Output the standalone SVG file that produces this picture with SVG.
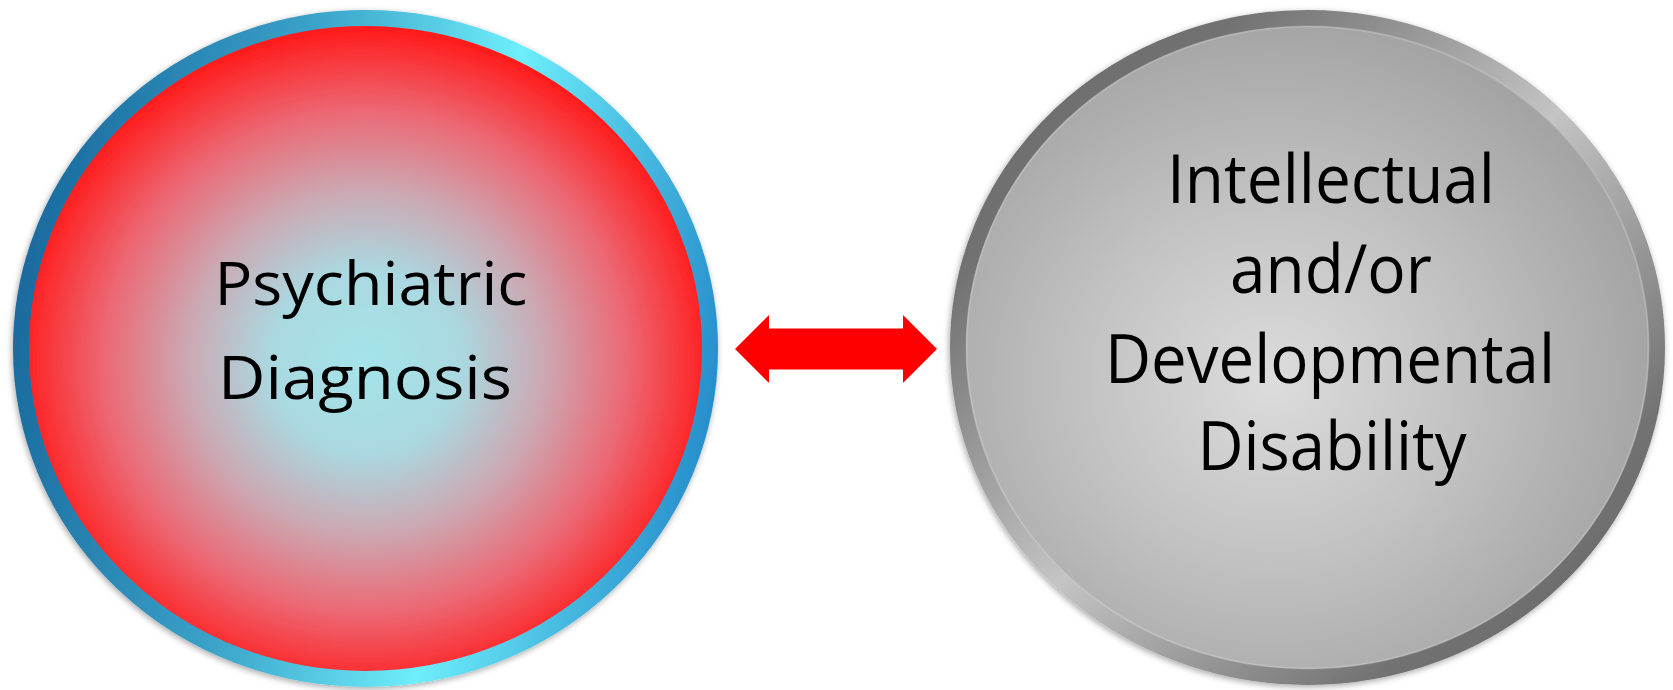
<svg xmlns="http://www.w3.org/2000/svg" width="1673" height="690" viewBox="0 0 1673 690">
  <style>
    .lbl { font-family: "Open Sans", Lato, "Liberation Sans", sans-serif; fill: #000000; text-anchor: middle; }
    .l1 { font-size: 60px; }
    .l2 { font-size: 68px; }
  </style>
  <defs>
    <filter id="shadow" x="-10%" y="-10%" width="120%" height="120%">
      <feDropShadow dx="-1" dy="2" stdDeviation="3" flood-color="#000" flood-opacity="0.35"/>
    </filter>
    <radialGradient id="redFill" cx="0.5" cy="0.52" r="0.5">
      <stop offset="0" stop-color="#A4E4EA"/>
      <stop offset="0.28" stop-color="#ABD8E0"/>
      <stop offset="0.52" stop-color="#CCA8B2"/>
      <stop offset="0.76" stop-color="#EC6874"/>
      <stop offset="1" stop-color="#FF1E1E"/>
    </radialGradient>
    <linearGradient id="blueRing" x1="0" y1="0.42" x2="1" y2="0.58">
      <stop offset="0" stop-color="#1A6B9E"/>
      <stop offset="0.35" stop-color="#3AA2C9"/>
      <stop offset="0.65" stop-color="#6EEEFA"/>
      <stop offset="1" stop-color="#2890CC"/>
    </linearGradient>
    <radialGradient id="grayFill" cx="0.45" cy="0.55" r="0.55">
      <stop offset="0" stop-color="#DCDCDC"/>
      <stop offset="0.5" stop-color="#C2C2C2"/>
      <stop offset="1" stop-color="#A4A4A4"/>
    </radialGradient>
    <linearGradient id="grayRing" x1="0" y1="0" x2="1" y2="1">
      <stop offset="0" stop-color="#666666"/>
      <stop offset="0.2" stop-color="#727272"/>
      <stop offset="0.5" stop-color="#C4C4C4"/>
      <stop offset="0.8" stop-color="#727272"/>
      <stop offset="1" stop-color="#646464"/>
    </linearGradient>
  </defs>

  <g id="node-psychiatric">
    <ellipse cx="365.5" cy="348.5" rx="344.5" ry="330.5" fill="url(#redFill)" stroke="url(#blueRing)" stroke-width="16" filter="url(#shadow)"/>
    <text class="lbl l1" x="371" y="305" textLength="313" lengthAdjust="spacingAndGlyphs">Psychiatric</text>
    <text class="lbl l1" x="365" y="399" textLength="294" lengthAdjust="spacingAndGlyphs">Diagnosis</text>
  </g>

  <g id="node-idd">
    <ellipse cx="1307.5" cy="347.5" rx="349.5" ry="329.5" fill="url(#grayFill)" stroke="url(#grayRing)" stroke-width="16" filter="url(#shadow)"/>
    <ellipse cx="1307.5" cy="347.5" rx="341" ry="321" fill="none" stroke="#FFFFFF" stroke-opacity="0.18" stroke-width="2"/>
    <text class="lbl l2" x="1331" y="203" textLength="328" lengthAdjust="spacingAndGlyphs">Intellectual</text>
    <text class="lbl l2" x="1331" y="293" textLength="202" lengthAdjust="spacingAndGlyphs">and/or</text>
    <text class="lbl l2" x="1330" y="383" textLength="450" lengthAdjust="spacingAndGlyphs">Developmental</text>
    <text class="lbl l2" x="1332" y="470" textLength="269" lengthAdjust="spacingAndGlyphs">Disability</text>
  </g>

  <g id="connectors">
    <polygon points="735,349 769,315 769,328.5 903,328.5 903,315 937,349 903,383 903,369.5 769,369.5 769,383" fill="#FF0000"/>
  </g>
</svg>
